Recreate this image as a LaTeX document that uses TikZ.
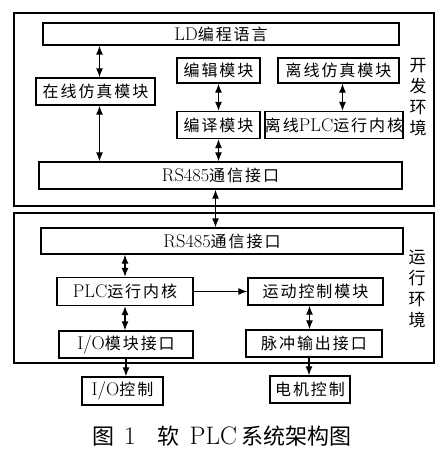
\documentclass[tikz,border=0pt]{standalone}
\usepackage{fontspec}
\setmainfont{Latin Modern Roman}[Scale=1.15]
\newfontfamily\cjk[LetterSpace=12]{Noto Sans CJK SC}
\newfontfamily\cjkcap{Noto Sans CJK SC}
\usetikzlibrary{arrows.meta}
\newcommand\lat[1]{{\rmfamily #1}}

\begin{document}
\begin{tikzpicture}[x=1pt,y=-1pt,
  blk/.style={draw,line width=1.3pt,inner sep=0pt,font=\fontsize{16}{18}\selectfont\cjk},
  side/.style={align=center,font=\fontsize{17}{21}\selectfont\cjkcap},
  dual/.style={{Latex[length=9pt,width=7pt]}-{Latex[length=9pt,width=7pt]},line width=1.2pt},
  one/.style={-{Latex[length=9pt,width=7pt]},line width=1.2pt}]
\useasboundingbox (0,0) rectangle (445,458);
% the two environments
\draw[line width=1.6pt] (14,13) rectangle (434,206);
\draw[line width=1.6pt] (14,213) rectangle (434,363);
\node[side] (dev) at (418,97) {开\\发\\环\\境};
\node[side] (run) at (417,289) {运\\行\\环\\境};
% development side
\node[blk,minimum width=356,minimum height=22] (ld) at (221,34) {\lat{LD}编程语言};
\node[blk,minimum width=119,minimum height=27] (online) at (95.5,91.5) {在线仿真模块};
\node[blk,minimum width=83,minimum height=25] (edit) at (218.5,70.5) {编辑模块};
\node[blk,minimum width=83,minimum height=27] (compile) at (218.5,125) {编译模块};
\node[blk,minimum width=121,minimum height=25] (offsim) at (338.5,70.5) {离线仿真模块};
\node[blk,minimum width=130,minimum height=27] (offkernel) at (334,125) {离线\lat{PLC}运行内核};
\node[blk,minimum width=363,minimum height=27] (rsa) at (220.5,175.5) {\lat{RS485}通信接口};
% runtime side
\node[blk,minimum width=362,minimum height=26] (rsb) at (222,241) {\lat{RS485}通信接口};
\node[blk,minimum width=136,minimum height=28] (kernel) at (125,291.5) {\lat{PLC}运行内核};
\node[blk,minimum width=135,minimum height=27] (motion) at (315.5,291.5) {运动控制模块};
\node[blk,minimum width=134,minimum height=27] (io) at (126,344.5) {\lat{I/O}模块接口};
\node[blk,minimum width=136,minimum height=27] (pulse) at (314,343.5) {脉冲输出接口};
% outputs
\node[blk,minimum width=81,minimum height=28] (ioctl) at (122.5,391) {\lat{I/O}控制};
\node[blk,minimum width=80,minimum height=27] (motor) at (310,389.5) {电机控制};
% connectors
\draw[dual] ([xshift=4pt]online.north) -- ([xshift=4pt]online.north |- ld.south);
\draw[dual] ([xshift=4pt]online.south) -- ([xshift=4pt]online.south |- rsa.north);
\draw[dual] (edit.south) -- (compile.north);
\draw[dual] (compile.south) -- (compile.south |- rsa.north);
\draw[dual] ([xshift=4pt]offsim.south) -- ([xshift=4pt]offsim.south |- offkernel.north);
\draw[dual] ([xshift=-5pt]rsa.south) -- ([xshift=-5pt]rsa.south |- rsb.north);
\draw[dual] (rsb.south -| kernel.north) -- (kernel.north);
\draw[one] (kernel.east) -- (motion.west);
\draw[dual] (kernel.south) -- (kernel.south |- io.north);
\draw[dual] ([xshift=-6pt]motion.south) -- ([xshift=-6pt]motion.south |- pulse.north);
\draw[one] (io.south) -- (io.south |- ioctl.north);
\draw[one] ([xshift=-5pt]pulse.south) -- ([xshift=-5pt]pulse.south |- motor.north);
% caption
\node[font=\fontsize{22}{24}\selectfont\cjkcap] (cap) at (222,436)
  {图\hspace{10pt}\lat{1}\hspace{22pt}软\hspace{10pt}\lat{PLC}\hspace{5pt}系统架构图};
\end{tikzpicture}
\end{document}
